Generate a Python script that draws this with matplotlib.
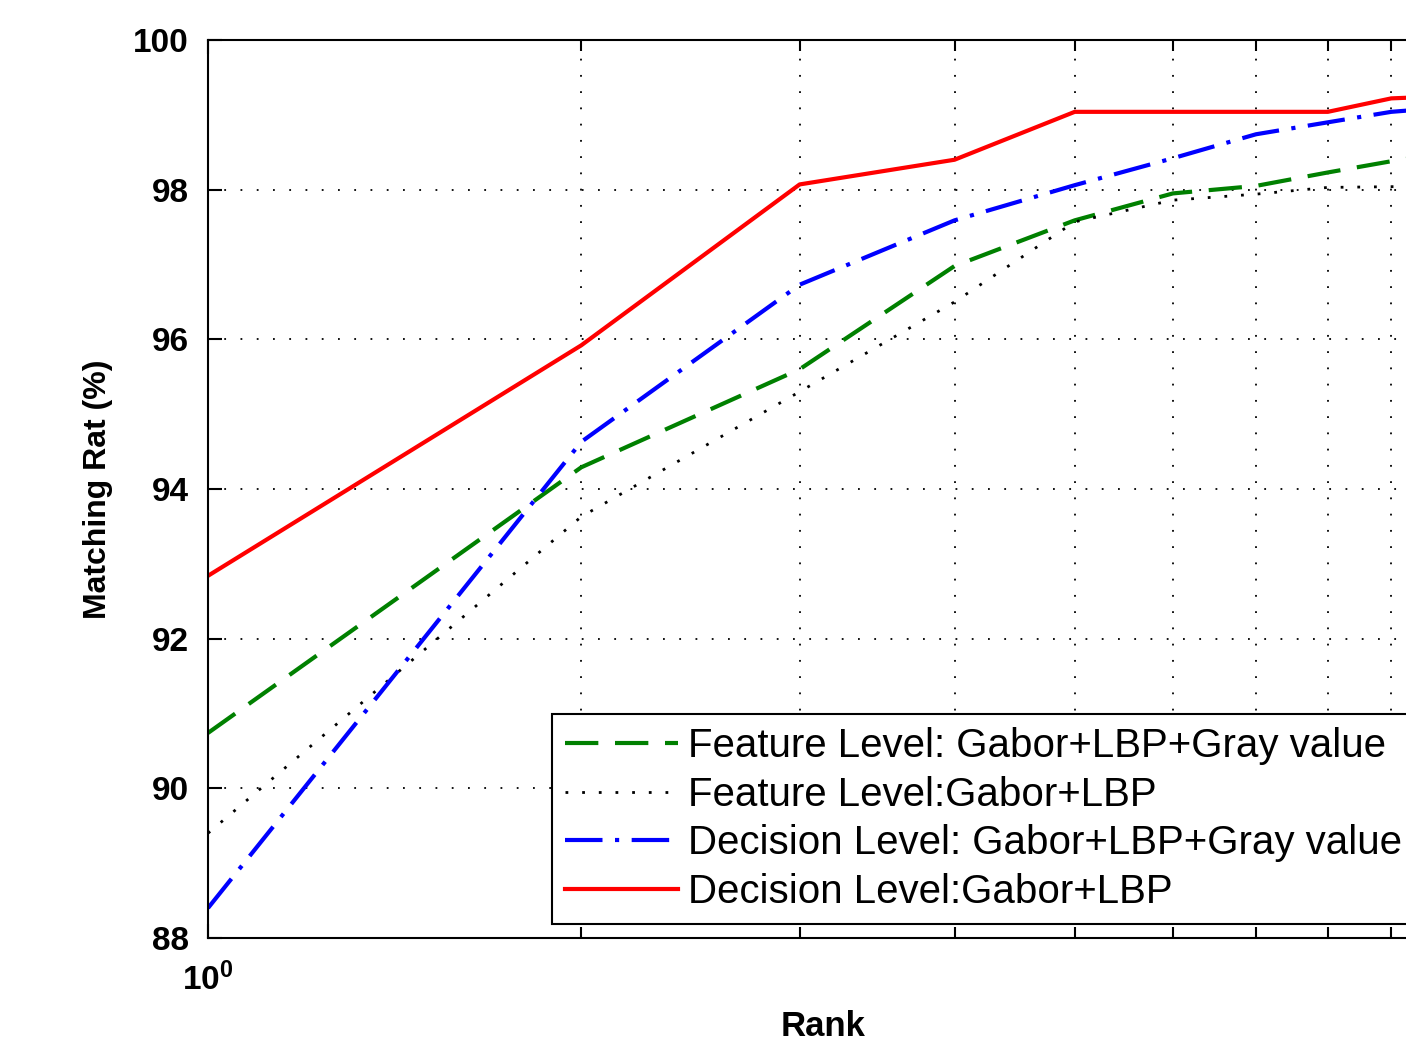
import matplotlib
matplotlib.use("Agg")
import matplotlib.pyplot as plt
from matplotlib.ticker import FixedLocator, NullFormatter

plt.rcParams['font.family'] = ['Liberation Sans', 'DejaVu Sans']
plt.rcParams['mathtext.fontset'] = 'custom'
plt.rcParams['mathtext.bf'] = 'Liberation Sans:bold'
plt.rcParams['mathtext.rm'] = 'Liberation Sans:bold'

# === Data ===
ranks = [1, 2, 3, 4, 5, 6, 7, 8, 9, 10]
feat_gabor_lbp_gray = [90.74, 94.29, 95.60, 96.98, 97.59, 97.95, 98.05, 98.23, 98.38, 98.50]
feat_gabor_lbp = [89.40, 93.63, 95.30, 96.50, 97.57, 97.86, 97.94, 98.03, 98.04, 98.05]
dec_gabor_lbp_gray = [88.40, 94.63, 96.73, 97.59, 98.06, 98.42, 98.74, 98.90, 99.04, 99.10]
dec_gabor_lbp = [92.84, 95.92, 98.07, 98.40, 99.04, 99.04, 99.04, 99.04, 99.22, 99.25]

labels = ['Feature Level: Gabor+LBP+Gray value',
          'Feature Level:Gabor+LBP',
          'Decision Level: Gabor+LBP+Gray value',
          'Decision Level:Gabor+LBP']
yticks = [88, 90, 92, 94, 96, 98, 100]
xmajor = [1, 10]
xmajor_labels = [r'$\mathbf{10^{0}}$', '']   # 10^1 falls outside the cropped picture
xminor = [2, 3, 4, 5, 6, 7, 8, 9]

W, H = 1406, 1043
fig = plt.figure(figsize=(W / 100, H / 100), dpi=100)
ax = fig.add_axes([208 / W, 1 - 938 / H, 1240 / W, 898 / H])

ax.plot(ranks, feat_gabor_lbp_gray, color='#008000', lw=3, linestyle=(0, (8, 4)), label=labels[0])
ax.plot(ranks, feat_gabor_lbp, color='black', lw=2, linestyle=(0, (1, 5)), label=labels[1])
ax.plot(ranks, dec_gabor_lbp_gray, color='#0000ff', lw=3, linestyle=(0, (9, 3, 1, 3)), label=labels[2])
ax.plot(ranks, dec_gabor_lbp, color='#ff0000', lw=3, linestyle='-', label=labels[3])

ax.set_xscale('log')
ax.set_xlim(1, 10)
ax.set_ylim(88, 100)
ax.xaxis.set_major_locator(FixedLocator(xmajor))
ax.xaxis.set_minor_locator(FixedLocator(xminor))
ax.xaxis.set_minor_formatter(NullFormatter())
ax.set_xticklabels(xmajor_labels)
ax.set_yticks(yticks)
ax.set_yticklabels([str(v) for v in yticks])

grid_style = dict(color='black', linestyle=(0, (1, 8)), linewidth=1.3)
ax.grid(True, which='major', axis='both', **grid_style)
ax.grid(True, which='minor', axis='x', **grid_style)

ax.tick_params(which='both', direction='in', top=True, right=True, width=1.5)
ax.tick_params(which='major', length=10)
ax.tick_params(which='minor', length=8)
ax.tick_params(axis='y', labelsize=24, pad=14)
ax.tick_params(axis='x', labelsize=24, pad=18)
for lab in ax.get_yticklabels():
    lab.set_fontweight('bold')
for sp in ax.spines.values():
    sp.set_linewidth(1.5)

ax.set_xlabel('Rank', fontsize=25, fontweight='bold')
ax.xaxis.set_label_coords(0.496, -0.080)
ax.set_ylabel('Matching Rat (%)', fontsize=23, fontweight='bold')
ax.yaxis.set_label_coords(-0.077, 0.5)

leg = ax.legend(loc='upper left', bbox_to_anchor=((552 - 208) / 1240, (938 - 714) / 898),
                borderaxespad=0, fontsize=29, handlelength=2.8, handletextpad=0.25,
                labelspacing=0.26, borderpad=0.33, fancybox=False, framealpha=1)
leg.get_frame().set_edgecolor('black')
leg.get_frame().set_linewidth(1.5)

fig.savefig('out.png', dpi=100)
